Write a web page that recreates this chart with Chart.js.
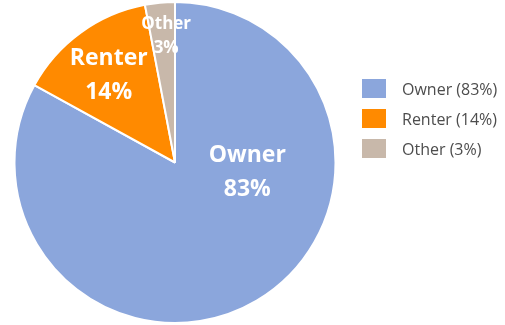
<!DOCTYPE html>
<html>
<head>
<meta charset="utf-8">
<script src="https://cdn.jsdelivr.net/npm/chart.js@4/dist/chart.umd.min.js"></script>
<style>
  html, body { margin: 0; padding: 0; background: #fff; }
  #wrap { position: relative; width: 505px; height: 325px; }
  #legend { position: absolute; left: 362px; top: 79px; font-family: "Open Sans", sans-serif; font-size: 16px; color: #4d4d4d; }
  .item { display: flex; align-items: center; height: 19px; margin-bottom: 11px; }
  .box { width: 24px; height: 19px; margin-right: 16px; }
</style>
</head>
<body>
<div id="wrap">
  <canvas id="pie" width="505" height="325"></canvas>
  <div id="legend"></div>
</div>
<script>
let categories = ["Owner", "Renter", "Other"];
let shares = [83, 14, 3];
let colors = ["#8BA6DC", "#FF8A00", "#C8B8AA"];

// where each slice's label sits: [degrees clockwise from top, fraction of radius]
let labelPlace = [[98, 0.455], [322.6, 0.68], [356, 0.79]];
let labelSize = [23, 23, 17];
let labelGap = [34, 34, 23.5];

const sliceLabels = {
    id: "sliceLabels",
    afterDatasetsDraw(chart) {
        let ctx = chart.ctx;
        let arcs = chart.getDatasetMeta(0).data;
        ctx.save();
        ctx.fillStyle = "#fff";
        ctx.textAlign = "center";
        ctx.textBaseline = "middle";
        arcs.forEach((arc, i) => {
            let a = labelPlace[i][0] * Math.PI / 180;
            let d = labelPlace[i][1] * arc.outerRadius;
            let x = arc.x + d * Math.sin(a);
            let y = arc.y - d * Math.cos(a);
            ctx.font = "bold " + labelSize[i] + "px 'Open Sans', sans-serif";
            ctx.fillText(categories[i], x, y - labelGap[i] / 2);
            ctx.fillText(shares[i] + "%", x, y + labelGap[i] / 2);
        });
        ctx.restore();
    }
};

new Chart("pie", {
    type: "pie",
    data: {
        labels: categories,
        datasets: [{
            data: shares,
            backgroundColor: colors,
            borderColor: "#fff",
            borderWidth: 2
        }]
    },
    options: {
        responsive: false,
        animation: false,
        layout: { padding: { top: 1, bottom: 1, left: 0, right: 155 } },
        plugins: {
            legend: { display: false },
            tooltip: { enabled: false }
        }
    },
    plugins: [sliceLabels]
});

let legend = document.getElementById("legend");
categories.forEach((name, i) => {
    let row = document.createElement("div");
    row.className = "item";
    row.innerHTML = '<span class="box" style="background:' + colors[i] + '"></span>' + name + " (" + shares[i] + "%)";
    legend.appendChild(row);
});
</script>
</body>
</html>
